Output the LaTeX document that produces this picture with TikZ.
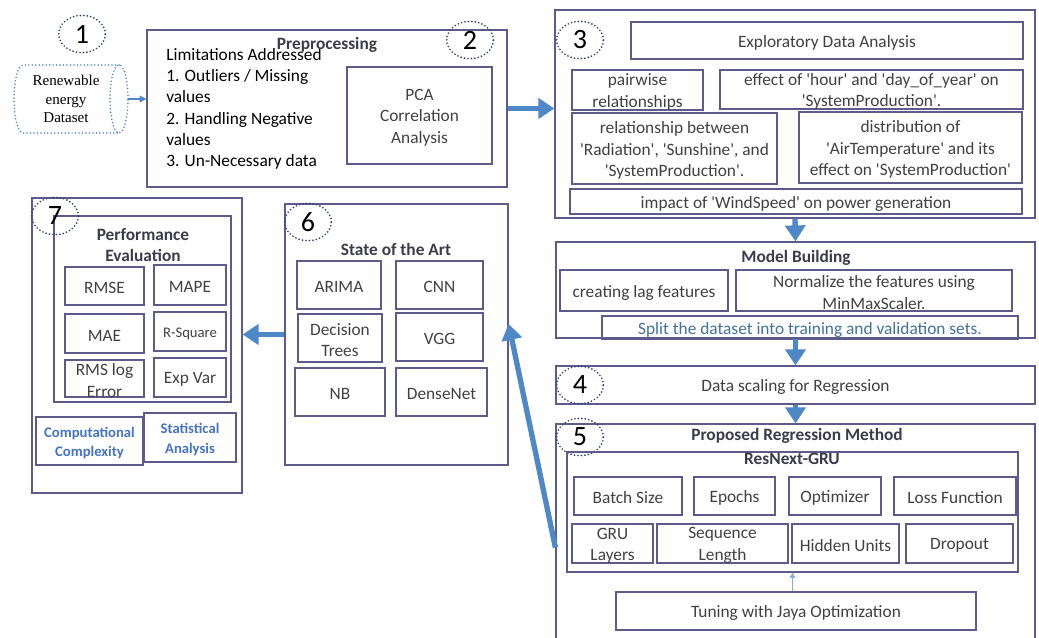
\documentclass[tikz,border=0pt]{standalone}
\usepackage{fontspec}
\setmainfont{Carlito}[Ligatures=TeXOff]
\newfontfamily\dsfont{Liberation Serif}
\usetikzlibrary{arrows.meta,shapes.geometric,fit,calc}
\definecolor{bd}{HTML}{5E5A8C}
\definecolor{tx}{HTML}{404040}
\definecolor{ttl}{HTML}{3B3B4B}
\definecolor{ar}{HTML}{4F88C6}
\definecolor{dotc}{HTML}{2F3F6F}
\definecolor{bl}{HTML}{4472C4}
\definecolor{sp}{HTML}{41719C}
\begin{document}
\begin{tikzpicture}[x=0.75pt,y=-0.75pt,
  R/.style={draw=bd, line width=0.9pt, inner sep=0pt},
  T/.style={inner sep=0pt, align=center, text=tx, font=\fontsize{13}{16}\selectfont, yshift=-1.5pt},
  ttl/.style={text=ttl, font=\bfseries\fontsize{13}{16}\selectfont, inner sep=0pt, align=center},
  num/.style={ellipse, draw=dotc, dash pattern=on 0pt off 2.6pt, line cap=round, line width=1.4pt,
    minimum width=35pt, minimum height=28pt, inner sep=0pt, text=black, font=\fontsize{21}{21}\selectfont},
  dotted blue/.style={draw=ar, dash pattern=on 0pt off 2.6pt, line cap=round, line width=1.3pt},
  fat/.style={draw=ar, line width=4pt, -{Triangle[length=12pt,width=15pt]}},
  thin/.style={draw=ar, line width=0.8pt, -{Triangle[length=5pt,width=5pt]}}
]
\useasboundingbox (0,0) rectangle (1039,638);

% ---- 1 dataset
\node[num] (n1) at (82,34) {1};
\node[inner sep=0pt, fit={(14,65)(128,133)}] (ds) {};
\draw[dotted blue] (119,65) -- (23,65) arc[start angle=90, end angle=270, x radius=6.75pt, y radius=25.5pt] -- (119,133);
\draw[dotted blue] (119,99) ellipse [x radius=6.75pt, y radius=25.5pt];
\node[inner sep=0pt, align=center, font=\dsfont\fontsize{11.3}{14}\selectfont, text=black] (dst) at (66,99) {Renewable\\energy\\Dataset};

% ---- 2 preprocessing
\node[R, fit={(147,30)(507,187)}] (b2) {};
\node[R, fit={(347,67)(492,164)}] (pca) {};
\node[T] (pcat) at (pca) {PCA\\Correlation\\Analysis};
\node[text=black, anchor=west, align=left, inner sep=0pt, font=\fontsize{13}{16}\selectfont] (lim) at (166,109)
  {Limitations Addressed\\1. Outliers / Missing\\values\\2. Handling Negative\\values\\3. Un-Necessary data};
\node[ttl] (t2) at (327,45) {Preprocessing};
\node[num] (n2) at (470,40) {2};

% ---- 3 EDA
\node[R, fit={(555,10)(1035,218)}] (b3) {};
\node[num] (n3) at (580,40) {3};
\node[R, fit={(631,22)(1023,59)}] (eda) {};
\node[T] (edat) at (eda) {Exploratory Data Analysis};
\node[R, fit={(572,70)(703,110)}] (pw) {};
\node[T] (pwt) at (pw) {pairwise\\relationships};
\node[R, fit={(720,70)(1023,109)}] (eff) {};
\node[T] (efft) at (eff) {effect of 'hour' and 'day\_of\_year' on\\'SystemProduction'.};
\node[R, fit={(572,113)(777,184)}] (rel) {};
\node[T] (relt) at (rel) {relationship between\\'Radiation', 'Sunshine', and\\'SystemProduction'.};
\node[R, fit={(799,112)(1022,183)}] (dist) {};
\node[T] (distt) at (dist) {distribution of\\'AirTemperature' and its\\effect on 'SystemProduction'};
\node[R, fit={(570,189)(1022,214)}] (imp) {};
\node[T] (impt) at (imp) {impact of 'WindSpeed' on power generation};

% ---- Model building
\node[R, fit={(556,242)(1035,338)}] (mb) {};
\node[ttl] (tmb) at (796,258) {Model Building};
\node[R, fit={(560,270)(728,311)}] (lag) {};
\node[T] (lagt) at (lag) {creating lag features};
\node[R, fit={(736,270)(1012,311)}] (nrm) {};
\node[T] (nrmt) at (nrm) {Normalize the features using\\MinMaxScaler.};
\node[R, fit={(602,316)(1018,339)}] (spl) {};
\node[T, text=sp] (splt) at (spl) {Split the dataset into training and validation sets.};

% ---- 4
\node[R, fit={(556,366)(1035,404)}] (b4) {};
\node[T] (b4t) at (b4) {Data scaling for Regression};
\node[num] (n4) at (580,385) {4};

% ---- 5
\node[R, fit={(556,424)(1035,645)}] (b5) {};
\node[num] (n5) at (580,437) {5};
\node[ttl] (t5) at (797,436) {Proposed Regression Method};
\node[R, fit={(567,452)(1018,572)}] (rg) {};
\node[ttl] (trg) at (792,459) {ResNext-GRU};
\node[R, fit={(574,477)(682,515)}] (p1) {};
\node[T] at (p1) {Batch Size};
\node[R, fit={(694,477)(775,515)}] (p2) {};
\node[T] at (p2) {Epochs};
\node[R, fit={(789,477)(881,515)}] (p3) {};
\node[T] at (p3) {Optimizer};
\node[R, fit={(894,477)(1016,515)}] (p4) {};
\node[T] at (p4) {Loss Function};
\node[R, fit={(572,524)(653,563)}] (p5) {};
\node[T] at (p5) {GRU\\Layers};
\node[R, fit={(657,524)(788,563)}] (p6) {};
\node[T] at (p6) {Sequence\\Length};
\node[R, fit={(792,524)(899,563)}] (p7) {};
\node[T] at (p7) {Hidden Units};
\node[R, fit={(906,524)(1013,563)}] (p8) {};
\node[T] at (p8) {Dropout};
\node[R, fit={(616,592)(976,630)}] (tun) {};
\node[T] at (tun) {Tuning with Jaya Optimization};

% ---- 6
\node[R, fit={(285,204)(508,465)}] (b6) {};
\node[num] (n6) at (308,222) {6};
\node[ttl] (t6) at (396,249) {State of the Art};
\node[R, fit={(297,261)(381,309)}] (s1) {};
\node[T] at (s1) {ARIMA};
\node[R, fit={(396,261)(483,309)}] (s2) {};
\node[T] at (s2) {CNN};
\node[R, fit={(298,314)(382,362)}] (s3) {};
\node[T] at (s3) {Decision\\Trees};
\node[R, fit={(396,313)(483,361)}] (s4) {};
\node[T] at (s4) {VGG};
\node[R, fit={(295,368)(385,416)}] (s5) {};
\node[T] at (s5) {NB};
\node[R, fit={(396,368)(487,416)}] (s6) {};
\node[T] at (s6) {DenseNet};

% ---- 7
\node[R, fit={(32,198)(242,493)}] (b7) {};
\node[R, fit={(54,216)(231,402)}] (pe) {};
\node[num] (n7) at (55,216) {7};
\node[ttl] (t7) at (143,245) {Performance\\Evaluation};
\node[R, fit={(65,267)(144,305)}] (m1) {};
\node[T] at (m1) {RMSE};
\node[R, fit={(154,265)(226,305)}] (m2) {};
\node[T] at (m2) {MAPE};
\node[R, fit={(65,314)(144,353)}] (m3) {};
\node[T] at (m3) {MAE};
\node[R, fit={(154,312)(226,351)}] (m4) {};
\node[T, font=\fontsize{11}{13}\selectfont] at (m4) {R-Square};
\node[R, fit={(65,360)(144,397)}] (m5) {};
\node[T] at (m5) {RMS log\\Error};
\node[R, fit={(154,358)(226,397)}] (m6) {};
\node[T] at (m6) {Exp Var};
\node[R, fit={(36,417)(143,465)}] (c1) {};
\node[T, text=bl, font=\bfseries\fontsize{11}{14.5}\selectfont] at (c1) {Computational\\Complexity};
\node[R, fit={(144,413)(236,462)}] (c2) {};
\node[T, text=bl, font=\bfseries\fontsize{11}{14.5}\selectfont] at (c2) {Statistical\\Analysis};

% ---- connectors
\draw[thin] (ds.east) -- (ds.east -| b2.west);
\draw[fat] (b2.east) -- (b2.east -| b3.west);
\draw[fat] (b3.south) -- (mb.north);
\draw[fat] (mb.south) -- (b4.north);
\draw[fat] (b4.south) -- (b5.north);
\draw[draw=ar!70, line width=0.5pt, -{Triangle[length=4pt,width=4pt]}] (tun.north -| rg.south) -- (rg.south);
\coordinate (a5) at ([yshift=-9.75pt]b5.west);
\coordinate (a6) at ([yshift=8pt]b6.east);
\draw[fat] (a5) -- (a6);
\draw[fat] (b6.west) -- (b6.west -| b7.east);
\end{tikzpicture}
\end{document}
